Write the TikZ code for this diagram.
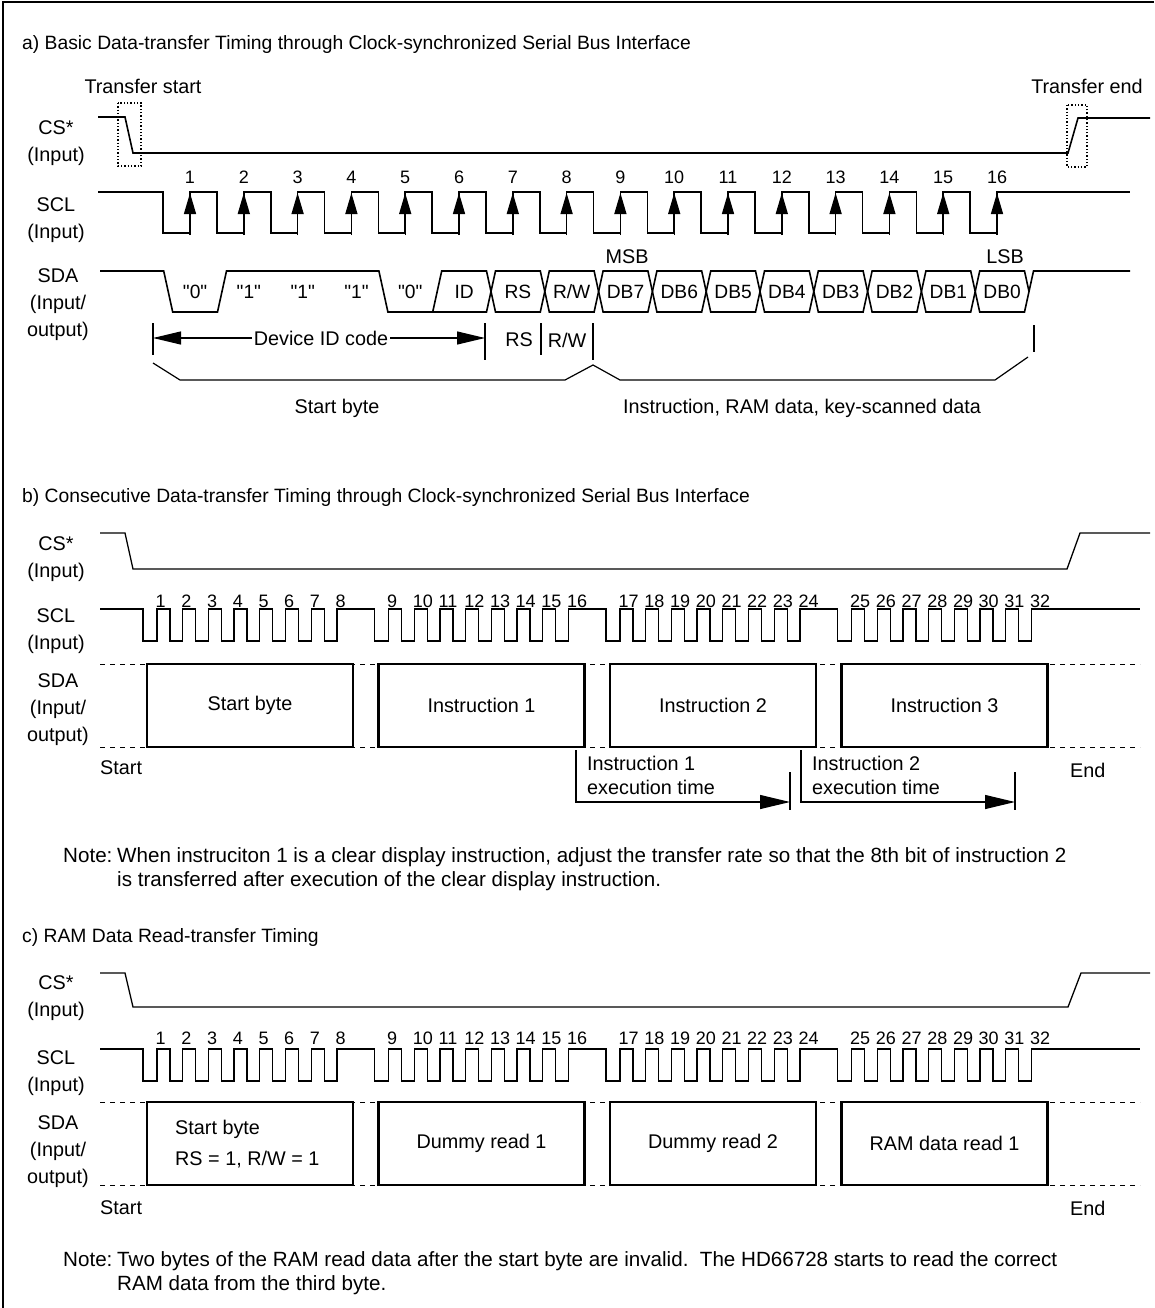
\documentclass[tikz,border=0pt]{standalone}
\usepackage{fontspec}
\setmainfont{Liberation Sans}[Ligatures=TeXOff]
\usetikzlibrary{arrows.meta}

\tikzset{
  wave/.style={line width=1.6pt},
  thinwave/.style={line width=1.3pt},
  guide/.style={line width=1.2pt},
  dotbox/.style={line width=1.3pt, dotted},
  dashguide/.style={line width=0.9pt, dash pattern=on 5pt off 5pt},
  lbl/.style={font=\fontsize{19.8}{27}\selectfont, inner sep=0pt},
  bitlbl/.style={font=\fontsize{19.2}{27}\selectfont, inner sep=0pt},
  ttl/.style={font=\fontsize{19.3}{27}\selectfont, inner sep=0pt, anchor=west},
  notetxt/.style={font=\fontsize{20.6}{27}\selectfont, inner sep=0pt, anchor=base west},
  num/.style={font=\fontsize{18}{20}\selectfont, inner sep=0pt},
  sig/.style={lbl, align=center},
  bytebox/.style={draw, line width=2.2pt, fill=white, minimum width=206pt, minimum height=83pt},
  clkarrow/.style={line width=1.4pt, -{Triangle[length=21pt,width=12pt]}},
  idspan/.style={guide, {Triangle[length=28pt,width=13pt]}-{Triangle[length=28pt,width=13pt]}},
  execarrow/.style={guide, -{Triangle[length=30pt,width=14pt]}}
}

\begin{document}
\begin{tikzpicture}[x=1pt,y=-1pt]
\useasboundingbox (0,0) rectangle (1154,1308);
\draw[line width=1.5pt] (3,1308) -- (3,2) -- (1154,2);

% a) basic transfer
\node[ttl] (ta) at (22,45) {a) Basic Data-transfer Timing through Clock-synchronized Serial Bus Interface};
\node[lbl] (tstart) at (143,86) {Transfer start};
\node[lbl] (tend) at (1087,86) {Transfer end};
\node[sig] (csa) at (56,143.5) {CS*\\(Input)};
\node[sig] (scla) at (56,220.5) {SCL\\(Input)};
\node[sig] (sdaa) at (58,305) {SDA\\(Input/\\output)};

\draw[wave] (98,117) -- (125,117) -- (133,153) -- (1068,153) -- (1078,118) -- (1150,118);
\draw[dotbox] (118,103) rectangle (141,166);
\draw[dotbox] (1067,105) rectangle (1087,167);

\draw[wave] (98,192) -| (163,233)
  foreach \i in {0,...,14} { -| ({190+53.8*\i},192) -| ({217+53.8*\i},233) }
  -| (997,192) -- (1130,192);
\foreach \i in {0,...,15} {
  \pgfmathtruncatemacro\n{\i+1}
  \draw[clkarrow] ({190+53.8*\i},235) -- ({190+53.8*\i},193);
  \node[num] (na\n) at ({190+53.8*\i},177) {\n};
}

\draw[wave] (100,271) -- (163.7,271) -- (172.7,312) -- (217.5,312) -- (226.5,271) -- (378.9,271)
  -- (387.9,312) -- (486.5,312) -- (491,291.5) -- (486.5,271) -- (441.7,271) -- (432.7,312);
\foreach \k in {6,...,14} {
  \pgfmathsetmacro\ta{168.2+53.8*\k}
  \draw[wave] (\ta,291.5) -- (\ta+4.5,271) -- (\ta+49.3,271) -- (\ta+53.8,291.5) -- (\ta+49.3,312) -- (\ta+4.5,312) -- cycle;
}
\draw[wave] (975.2,291.5) -- (979.7,271) -- (1024.5,271) -- (1029,291.5);
\draw[wave] (975.2,291.5) -- (979.7,312) -- (1024.5,312) -- (1033.5,271) -- (1130,271);
\foreach \k/\t in {0/"0",1/"1",2/"1",3/"1",4/"0",5/ID,6/RS,7/{R/W},8/DB7,9/DB6,10/DB5,11/DB4,12/DB3,13/DB2,14/DB1,15/DB0}
  \node[bitlbl] (bit\k) at ({195.1+53.8*\k},292) {\t};
\node[lbl] (msb) at (627,257) {MSB};
\node[lbl] (lsb) at (1005,257) {LSB};

\foreach \x/\ya/\yb in {153/323/355, 485/323/360, 541/323/355, 593/323/360, 1034/325/352}
  \draw[guide] (\x,\ya) -- (\x,\yb);
\coordinate (idL) at (153,338);
\coordinate (idR) at (485,338);
\draw[idspan] (idL) -- (idR);
\node[lbl, fill=white, inner sep=2pt] (idtxt) at (321,338) {Device ID code};
\node[lbl] (rstxt) at (519,340) {RS};
\node[lbl] (rwtxt) at (567,340) {R/W};
\draw[guide] (153,363) -- (180,380) -- (565,380) -- (593,365) -- (620,380) -- (995,380) -- (1028,357);
\node[lbl] (sbyte) at (337,408) {Start byte};
\node[lbl] (instr) at (802,408) {Instruction, RAM data, key-scanned data};

% b) consecutive transfer
\node[ttl] (tb) at (22,498) {b) Consecutive Data-transfer Timing through Clock-synchronized Serial Bus Interface};
\node[sig] (csb) at (56,559) {CS*\\(Input)};
\node[sig] (sclb) at (56,631.5) {SCL\\(Input)};
\node[sig] (sdab) at (58,710) {SDA\\(Input/\\output)};
\draw[thinwave] (100,533) -- (125,533) -- (133,569) -- (1067,569) -- (1080,533) -- (1150,533);

% c) RAM read
\node[ttl] (tc) at (22,937) {c) RAM Data Read-transfer Timing};
\node[sig] (csc) at (56,998.5) {CS*\\(Input)};
\node[sig] (sclc) at (56,1073.5) {SCL\\(Input)};
\node[sig] (sdac) at (58,1152) {SDA\\(Input/\\output)};
\draw[thinwave] (100,973) -- (125,973) -- (133,1007) -- (1068,1007) -- (1081,973) -- (1150,973);

% clocks and data lanes of b) and c)
\foreach \hi/\lo/\ny/\pp in {609/641/601/b,1049/1081/1038/c} {
  \draw[thinwave] (100,\hi) foreach \b in {0,...,3} { -| ({143+231.5*\b},\lo)
      foreach \p in {0,...,6} { -| ({157+231.5*\b+25.7*\p},\hi) -| ({170+231.5*\b+25.7*\p},\lo) }
      -| ({337+231.5*\b},\hi) } -- (1140,\hi);
  \foreach \b in {0,...,3} \foreach \p in {0,...,7} {
    \pgfmathtruncatemacro\n{8*\b+\p+1}
    \node[num, anchor=west] (n\pp\n) at ({155.5+231.5*\b+25.7*\p},\ny) {\n};
  }
}
\foreach \ya/\yb in {664/747, 1102/1185} {
  \draw[dashguide] (100,\ya) -- (1140,\ya);
  \draw[dashguide] (100,\yb) -- (1140,\yb);
}
\foreach \b/\t in {0/Start byte,1/Instruction 1,2/Instruction 2,3/Instruction 3}
  \node[bytebox, lbl] (sb\b) at ({250+231.5*\b},705.5) {\t};
\node[bytebox] (rb0) at (250,1143.5) {};
\node[lbl, anchor=west] (rb0a) at (175,1129) {Start byte};
\node[lbl, anchor=west] (rb0b) at (175,1160) {RS = 1, R/W = 1};
\foreach \b/\t in {1/Dummy read 1,2/Dummy read 2,3/RAM data read 1}
  \node[bytebox, lbl] (rb\b) at ({250+231.5*\b},1143.5) {\t};

\node[lbl, anchor=west] (startb) at (100,768) {Start};
\node[lbl, anchor=west] (endb) at (1070,770) {End};
\node[lbl, anchor=west] (startc) at (100,1208) {Start};
\node[lbl, anchor=west] (endc) at (1070,1208) {End};

\coordinate (e1a) at (576,750);
\coordinate (e1b) at (790,802);
\coordinate (e2a) at (801,750);
\coordinate (e2b) at (1015,802);
\draw[execarrow] (e1a) |- (e1b);
\draw[execarrow] (e2a) |- (e2b);
\draw[guide] (790,772) -- (790,810);
\draw[guide] (1015,772) -- (1015,810);
\node[lbl, anchor=west] (ex1a) at (587,763) {Instruction 1};
\node[lbl, anchor=west] (ex1b) at (587,787) {execution time};
\node[lbl, anchor=west] (ex2a) at (812,763) {Instruction 2};
\node[lbl, anchor=west] (ex2b) at (812,787) {execution time};

\node[notetxt] (noteb) at (63,862) {Note:};
\node[notetxt] (noteb1) at (117,862) {When instruciton 1 is a clear display instruction, adjust the transfer rate so that the 8th bit of instruction 2};
\node[notetxt] (noteb2) at (117,886) {is transferred after execution of the clear display instruction.};
\node[notetxt] (notec) at (63,1266) {Note:};
\node[notetxt] (notec1) at (117,1266) {Two bytes of the RAM read data after the start byte are invalid.\ \ The HD66728 starts to read the correct};
\node[notetxt] (notec2) at (117,1290) {RAM data from the third byte.};
\end{tikzpicture}
\end{document}
